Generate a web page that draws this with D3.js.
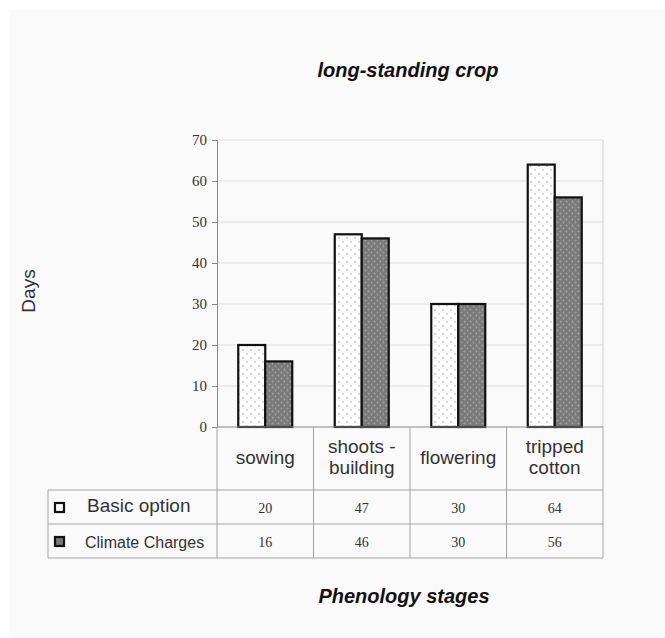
<!DOCTYPE html>
<html>
<head>
<meta charset="utf-8">
<script src="https://cdn.jsdelivr.net/npm/d3@7/dist/d3.min.js"></script>
<style>
  body { margin: 0; background: #fff; }
  svg { display: block; }
</style>
</head>
<body>
<div id="chart"></div>
<script>
// data
const categories = [["sowing"], ["shoots -", "building"], ["flowering"], ["tripped", "cotton"]];
const seriesNames = ["Basic option", "Climate Charges"];
const basicOption = [20, 47, 30, 64];
const climateCharges = [16, 46, 30, 56];
const yTicks = [0, 10, 20, 30, 40, 50, 60, 70];

const width = 665, height = 638;
const margin = { left: 217, right: 62, top: 140, bottom: 211 };
const plotW = width - margin.left - margin.right;
const plotH = height - margin.top - margin.bottom;

const sans = "'Liberation Sans', Arial, sans-serif";
const serif = "'Liberation Serif', 'Times New Roman', serif";

const svg = d3.select("#chart").append("svg")
    .attr("width", width)
    .attr("height", height);

// patterns for the two series
const defs = svg.append("defs");
const p1 = defs.append("pattern").attr("id", "dotsLight")
    .attr("patternUnits", "userSpaceOnUse").attr("width", 8).attr("height", 8);
p1.append("rect").attr("width", 8).attr("height", 8).attr("fill", "#fdfdfd");
p1.append("circle").attr("cx", 2).attr("cy", 2).attr("r", 0.8).attr("fill", "#999");
p1.append("circle").attr("cx", 6).attr("cy", 6).attr("r", 0.8).attr("fill", "#bbb");

const p2 = defs.append("pattern").attr("id", "dotsDark")
    .attr("patternUnits", "userSpaceOnUse").attr("width", 6).attr("height", 6);
p2.append("rect").attr("width", 6).attr("height", 6).attr("fill", "#7a7a7a");
p2.append("circle").attr("cx", 1.5).attr("cy", 1.5).attr("r", 0.9).attr("fill", "#a8a8a8");
p2.append("circle").attr("cx", 4.5).attr("cy", 4.5).attr("r", 0.9).attr("fill", "#a0a0a0");

// faint grey page background
svg.append("rect").attr("x", 10).attr("y", 10)
    .attr("width", width - 10).attr("height", height - 10)
    .attr("fill", "#fafafa");

const x = d3.scaleBand().domain(d3.range(categories.length))
    .range([0, plotW]).paddingInner(0).paddingOuter(0);
const xSub = d3.scaleBand().domain(d3.range(seriesNames.length))
    .range([0, 54]);
const y = d3.scaleLinear().domain([0, 70]).range([plotH, 0]);

const g = svg.append("g").attr("transform", `translate(${margin.left},${margin.top})`);

// gridlines
g.selectAll(".grid").data(yTicks.slice(1)).enter().append("line")
    .attr("x1", 0).attr("x2", plotW)
    .attr("y1", d => y(d)).attr("y2", d => y(d))
    .attr("stroke", "#dedede").attr("stroke-width", 1);

// right frame line
g.append("line").attr("x1", plotW).attr("x2", plotW).attr("y1", 0).attr("y2", plotH)
    .attr("stroke", "#cfcfcf");

// y axis
const yAxis = g.append("g").call(d3.axisLeft(y).tickValues(yTicks).tickSize(5).tickPadding(5));
yAxis.select(".domain").attr("stroke", "#888");
yAxis.selectAll(".tick line").attr("stroke", "#888");
yAxis.selectAll("text")
    .attr("font-family", serif)
    .attr("font-size", 15).attr("fill", "#333");

// bars
const series = [basicOption, climateCharges];
const fills = ["url(#dotsLight)", "url(#dotsDark)"];
series.forEach((vals, s) => {
    g.selectAll(".bar" + s).data(vals).enter().append("rect")
        .attr("x", (d, i) => x(i) + (x.bandwidth() - 54) / 2 + xSub(s))
        .attr("y", d => y(d))
        .attr("width", xSub.bandwidth())
        .attr("height", d => plotH - y(d))
        .attr("fill", fills[s])
        .attr("stroke", "#111").attr("stroke-width", 2.2);
});

// x axis line
g.append("line").attr("x1", 0).attr("x2", plotW).attr("y1", plotH).attr("y2", plotH)
    .attr("stroke", "#888");

// data table under the plot
const headerH = 63, rowH = 34;
const tableLeft = 48 - margin.left;
const lineColor = "#a5a5a5";

// vertical separators
d3.range(categories.length + 1).forEach(i => {
    const xx = i < categories.length ? x(i) : plotW;
    g.append("line").attr("x1", xx).attr("x2", xx)
        .attr("y1", plotH).attr("y2", plotH + headerH + rowH * 2)
        .attr("stroke", lineColor);
});
// horizontal rows
[headerH, headerH + rowH, headerH + rowH * 2].forEach(off => {
    g.append("line").attr("x1", tableLeft).attr("x2", plotW)
        .attr("y1", plotH + off).attr("y2", plotH + off)
        .attr("stroke", lineColor);
});
g.append("line").attr("x1", tableLeft).attr("x2", tableLeft)
    .attr("y1", plotH + headerH).attr("y2", plotH + headerH + rowH * 2)
    .attr("stroke", lineColor);

// category labels
categories.forEach((lines, i) => {
    const cx = x(i) + x.bandwidth() / 2;
    const t = g.append("text").attr("text-anchor", "middle")
        .attr("font-family", sans)
        .attr("font-size", 19).attr("fill", "#333");
    const startY = plotH + 37 - (lines.length - 1) * 11;
    lines.forEach((ln, k) => {
        t.append("tspan").attr("x", cx).attr("y", startY + k * 21).text(ln);
    });
});

// table rows: legend key, name, values
series.forEach((vals, s) => {
    const rowTop = plotH + headerH + rowH * s;
    g.append("rect")
        .attr("x", tableLeft + 7).attr("y", rowTop + rowH / 2 - 4)
        .attr("width", 9).attr("height", 9)
        .attr("fill", s === 0 ? "#fff" : "#777")
        .attr("stroke", "#111").attr("stroke-width", 2.2);
    g.append("text")
        .attr("x", tableLeft + (s === 0 ? 39 : 37)).attr("y", rowTop + rowH / 2 + (s === 0 ? 5 : 7))
        .attr("font-family", sans)
        .attr("font-size", s === 0 ? 19 : 16).attr("fill", "#333")
        .text(seriesNames[s]);
    vals.forEach((v, i) => {
        g.append("text")
            .attr("x", x(i) + x.bandwidth() / 2).attr("y", rowTop + rowH / 2 + 6)
            .attr("text-anchor", "middle")
            .attr("font-family", serif)
            .attr("font-size", 14).attr("fill", "#333")
            .text(v);
    });
});

// titles
svg.append("text").attr("x", 408).attr("y", 77).attr("text-anchor", "middle")
    .attr("font-family", sans)
    .attr("font-size", 20).attr("font-weight", "bold").attr("font-style", "italic")
    .attr("fill", "#111").text("long-standing crop");

svg.append("text").attr("x", 404).attr("y", 603).attr("text-anchor", "middle")
    .attr("font-family", sans)
    .attr("font-size", 20).attr("font-weight", "bold").attr("font-style", "italic")
    .attr("fill", "#111").text("Phenology stages");

svg.append("text").attr("transform", "translate(35,291) rotate(-90)")
    .attr("text-anchor", "middle")
    .attr("font-family", sans)
    .attr("font-size", 19).attr("fill", "#333").text("Days");
</script>
</body>
</html>
